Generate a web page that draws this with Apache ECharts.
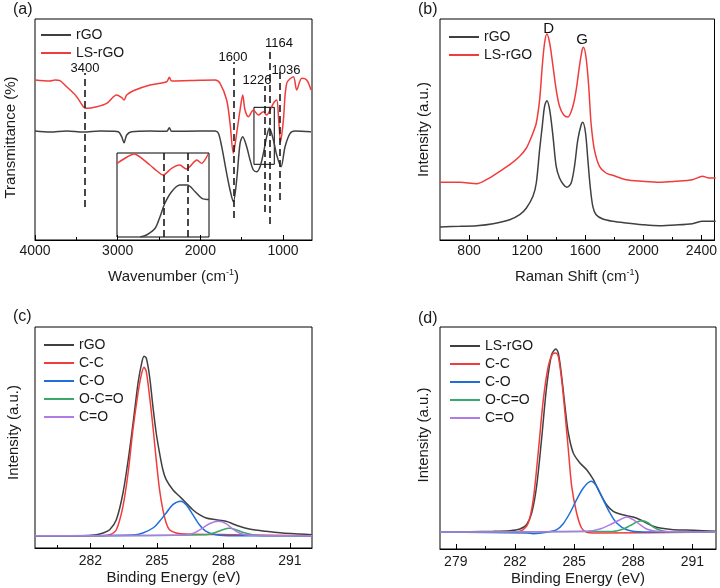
<!DOCTYPE html>
<html>
<head>
<meta charset="UTF-8">
<title></title>
<style>html,body{margin:0;padding:0;background:#fff}</style>
</head>
<body>
<div style="position:relative;width:720px;height:588px">
	<div id="main" style="position:absolute;left:0;top:0;width:720px;height:588px"></div>
	<div id="inset" style="position:absolute;left:0;top:0;width:720px;height:588px;pointer-events:none"></div>
</div>
<script src="https://cdn.jsdelivr.net/npm/echarts@6/dist/echarts.min.js"></script>
<script>
// (a) FTIR, [wavenumber, transmittance (arb.)]
var ftirRGO = [[4000,109],[3819,108],[3617,109],[3415,108],[3214,109],[3052,108.7],[2992,108.3],[2952,103.3],[2923,97.3],[2891,105],[2831,108.3],[2609,109],[2407,108.7],[2375,112.3],[2347,108.7],[2004,109],[1823,109],[1782,106.7],[1742,93.3],[1682,66.7],[1641,50],[1601,38.3],[1561,60],[1520,96.7],[1488,103.3],[1440,93.3],[1399,80],[1359,70],[1319,68.3],[1278,73.3],[1238,86.7],[1198,103.3],[1165,112],[1117,100],[1077,85],[1024,73.3],[976,93.3],[915,106.7],[855,109],[662,108.3]];
var ftirLS = [[4000,160],[3819,159],[3758,160],[3698,159.3],[3617,153.3],[3496,143.3],[3415,133.3],[3375,131.7],[3254,133.3],[3133,136.7],[3012,145],[2952,142.3],[2923,140],[2891,145],[2811,149.3],[2609,155],[2407,158.3],[2375,162.7],[2347,159],[2004,159.7],[1823,160],[1762,156.7],[1682,140],[1641,116.7],[1601,86.7],[1561,106.7],[1520,130],[1488,145],[1460,130],[1419,123.3],[1359,130],[1298,125],[1238,128.3],[1198,125],[1157,130],[1117,136.7],[1077,140],[1053,120],[1030,98],[996,120],[956,156.7],[875,163.3],[835,150],[774,161.7],[714,160],[662,150]];
// inset, 1352-1106 cm-1
var insetRGO = [[1290,0],[1273,2],[1250,8.7],[1237,20.3],[1224,33.7],[1206,45.3],[1184,52],[1164,52],[1143,45.3],[1125,38.7],[1106,37.5]];
var insetLS = [[1352,73],[1349,74.3],[1325,80],[1304,83],[1264,72],[1245,66],[1228,62],[1206,68.7],[1184,72],[1166,68],[1139,77],[1125,73.7],[1108,83]];
var ftirPeaks = [3400, 1600, 1226, 1164, 1036];
var ftirDash = [[33,167],[22,178],[28,154],[16,188],[40,172]];
var ftirPeakLabels = [[3395,172,'3400'],[1605,183,'1600'],[1315,160,'1226'],[1049,197,'1164'],[964,170,'1036']];

// (b) Raman, [shift, intensity]
var ramanRGO = [[600,13],[737,13.7],[852,14.3],[966,16.3],[1080,20.3],[1149,25.3],[1195,32],[1240,43.7],[1263,57],[1286,90.3],[1304,113.7],[1320,133.7],[1336,139.3],[1355,130.3],[1378,103.7],[1400,73.7],[1423,62],[1451,55.3],[1474,52.7],[1503,57],[1526,73.7],[1549,100.3],[1572,115.3],[1583,117.7],[1602,107],[1618,80.3],[1634,53.7],[1652,33.7],[1675,25.3],[1721,21],[1789,18.7],[1881,17],[1995,15.3],[2109,14.3],[2224,15],[2338,16.3],[2407,18.7],[2498,18.7]];
var ramanLS = [[600,57.7],[737,57.7],[852,56.3],[920,60.3],[1012,68.7],[1080,75.3],[1149,83.7],[1195,92],[1217,98.7],[1240,107],[1263,117],[1286,140.3],[1304,173.7],[1320,197],[1336,206],[1355,197],[1378,173.7],[1400,150.3],[1423,133.7],[1451,125.3],[1480,123],[1515,133.7],[1538,150.3],[1560,173.7],[1579,190.3],[1588,192.7],[1606,182],[1624,153.7],[1640,117],[1663,90.3],[1698,73.7],[1743,67],[1789,64.7],[1881,60.3],[1995,58.7],[2109,57.7],[2224,58.7],[2338,60.3],[2407,63.7],[2452,62],[2498,62]];
var ramanLabels = [[1348,211,'D'],[1579,200,'G']];

// (c) XPS C1s rGO, [binding energy, intensity]
var cRGO = [[279.5,12.3],[281.67,12.3],[282.27,13.3],[282.57,15],[282.87,18.3],[283.17,28.3],[283.47,55],[283.77,98.3],[284.0,138.3],[284.15,165],[284.3,183.3],[284.42,191.7],[284.52,190],[284.67,171.7],[284.82,141.7],[284.97,115],[285.12,95],[285.27,78.3],[285.42,68.3],[285.72,58.3],[286.02,51.7],[286.32,45],[286.62,38.3],[286.92,33.3],[287.22,30],[287.67,28.3],[288.12,26.7],[288.42,24.3],[288.72,21.7],[289.17,19],[289.92,16.7],[290.67,15],[291.42,14],[292,13.3]];
var cCC = [[279.5,12.3],[282.42,12.3],[282.87,13.3],[283.17,18.3],[283.47,41.7],[283.7,75],[283.92,118.3],[284.15,155],[284.3,173.3],[284.42,180.7],[284.52,176.7],[284.67,151.7],[284.82,121.7],[284.97,88.3],[285.12,58.3],[285.27,38.3],[285.42,25],[285.57,18.3],[285.87,15],[286.32,14],[288.42,13.3],[292,12.3]];
var cCO = [[279.5,12.3],[283.92,13],[284.37,15],[284.82,20],[285.12,26.7],[285.42,35],[285.72,43.3],[286.07,46.7],[286.32,43.3],[286.62,33.3],[286.92,23.3],[287.22,16.7],[287.67,13.3],[288.42,12.3],[292,12.3]];
var cOCO = [[279.5,12.3],[287.22,13.3],[287.67,15.7],[287.97,18.3],[288.27,19.7],[288.57,18.3],[288.87,15.7],[289.32,13.3],[289.92,12.3],[292,12.3]];
var cCdO = [[279.5,12.3],[286.32,13],[286.77,16],[287.07,20],[287.37,24.3],[287.78,26.7],[288.12,24.3],[288.42,19],[288.72,15],[289.17,12.7],[292,12.3]];

// (d) XPS C1s LS-rGO
var dLS = [[278.2,17],[280.9,17.7],[281.75,18.3],[282.25,20],[282.59,24.3],[282.85,36],[283.1,62.7],[283.35,109.3],[283.61,162.7],[283.86,194.3],[284.08,200],[284.2,196],[284.37,172.7],[284.54,142.7],[284.71,116],[284.96,96],[285.3,86],[285.64,79.3],[285.98,69.3],[286.31,56],[286.65,44.3],[286.99,37.7],[287.33,35],[287.67,33.3],[288.0,32],[288.35,29.3],[288.68,26],[289.02,22.7],[289.36,21],[290.04,19.3],[291.05,18.7],[292.2,17.7]];
var dCC = [[278.2,17],[282.08,17],[282.42,19.3],[282.68,26],[282.93,49.3],[283.18,96],[283.44,149.3],[283.69,182.7],[283.91,195],[284.08,196],[284.2,192.7],[284.37,169.3],[284.54,136],[284.71,99.3],[284.88,62.7],[285.13,36],[285.38,21],[285.64,16.7],[285.98,16],[292.2,17]];
var dCO = [[278.2,17],[282.59,16],[282.93,15.3],[283.61,16.7],[284.12,19.3],[284.45,25.3],[284.79,36],[285.13,49.3],[285.47,61],[285.86,67.7],[286.15,62.7],[286.48,49.3],[286.82,36],[287.16,26],[287.67,19.3],[288.51,17],[292.2,17]];
var dOCO = [[278.2,17],[286.99,17.7],[287.5,20],[287.84,23.3],[288.18,27],[288.48,28.3],[288.77,26],[289.02,22],[289.36,18.7],[289.87,17],[292.2,17]];
var dCdO = [[278.2,17],[285.64,17.7],[286.31,20],[286.82,24.3],[287.33,29.3],[287.67,32],[288.0,29.3],[288.35,24.3],[288.68,20],[289.19,17.7],[292.2,17]];

var ftirTicks = [1000, 2000, 3000, 4000], ftirMinor = [1500, 2500, 3500];
var ramanTicks = [800, 1200, 1600, 2000, 2400], ramanMinor = [1000, 1400, 1800, 2200];
var xpsTicksC = [282, 285, 288, 291], xpsTicksD = [279, 282, 285, 288, 291];
var xpsMinor = [280.5, 283.5, 286.5, 289.5];

var BLACK = '#404040', RED = '#f03c3c', BLUE = '#1f6fd8', GREEN = '#3aa86a', PURPLE = '#b07be6';
var FONT = 'Liberation Sans, Arial, sans-serif';

var myChart = echarts.init(document.getElementById('main'), null, {renderer: 'canvas'});
// the FTIR inset gets its own instance, laid over the main one
var insetChart = echarts.init(document.getElementById('inset'), null, {renderer: 'canvas'});

function xAxes(grid, min, max, majors, minors, name, nameGap, labelMargin, inverse) {
	return [{
		type: 'value', gridIndex: grid, min: min, max: max, inverse: !!inverse, position: 'bottom',
		splitLine: {show: false},
		axisLine: {lineStyle: {color: '#000', width: 1}},
		axisTick: {inside: true, length: 5, customValues: majors, lineStyle: {color: '#000'}},
		axisLabel: {customValues: majors, margin: labelMargin, fontSize: 14, color: '#1a1a1a', fontFamily: FONT,
			formatter: function(v) { return String(v); }},
		name: name, nameLocation: 'middle', nameGap: nameGap,
		nameTextStyle: {fontSize: 15, color: '#1a1a1a', fontFamily: FONT,
			rich: {sup: {fontSize: 9, fontFamily: FONT, color: '#1a1a1a', verticalAlign: 'bottom', padding: [0, 0, 8, 0]}}}
	}, {
		type: 'value', gridIndex: grid, min: min, max: max, inverse: !!inverse, position: 'bottom',
		splitLine: {show: false}, axisLine: {show: false}, axisLabel: {show: false},
		axisTick: {inside: true, length: 3, customValues: minors, lineStyle: {color: '#000'}}
	}];
}

function yAxis(grid, max, name, nameGap, pad) {
	return {
		type: 'value', gridIndex: grid, min: 0, max: max,
		axisLine: {show: false}, axisTick: {show: false}, axisLabel: {show: false}, splitLine: {show: false},
		name: name, nameLocation: 'middle', nameGap: nameGap, nameRotate: 90,
		nameTextStyle: {fontSize: 15, color: '#1a1a1a', fontFamily: FONT, padding: pad || 0}
	};
}

function line(name, xi, yi, data, color) {
	return {
		type: 'line', name: name, xAxisIndex: xi, yAxisIndex: yi, data: data,
		symbol: 'none', smooth: 0.3, silent: true,
		lineStyle: {color: color, width: 1.5}, itemStyle: {color: color}
	};
}

function textMarks(xi, yi, items, size) {
	return {
		type: 'scatter', xAxisIndex: xi, yAxisIndex: yi, symbolSize: 0, silent: true,
		itemStyle: {opacity: 1},
		data: items.map(function(d) { return {value: [d[0], d[1]], name: d[2]}; }),
		label: {show: true, position: 'inside', formatter: '{b}', fontSize: size, color: '#111', fontFamily: FONT}
	};
}

function legend(left, top, names) {
	return {
		left: left, top: top, orient: 'vertical', data: names, icon: 'rect',
		itemWidth: 30, itemHeight: 2, itemGap: 4, selectedMode: false,
		formatter: function(n) { return n.split('|')[1]; },
		textStyle: {fontSize: 14, color: '#1a1a1a', fontFamily: FONT}
	};
}

function dashLines(lines) {
	return {
		silent: true, symbol: 'none', label: {show: false}, animation: false,
		lineStyle: {color: '#1a1a1a', type: [7, 4], width: 1.6},
		data: lines
	};
}

var seriesA = line('a|rGO', 0, 0, ftirRGO, BLACK);
seriesA.markLine = dashLines(ftirPeaks.map(function(p, i) { return [{coord: [p, ftirDash[i][0]]}, {coord: [p, ftirDash[i][1]]}]; }));
var seriesALS = line('a|LS-rGO', 0, 0, ftirLS, RED);
seriesALS.markArea = {
	silent: true, label: {show: false},
	itemStyle: {color: 'rgba(0,0,0,0)', borderColor: '#000', borderWidth: 1},
	data: [[{coord: [1352, 75.7]}, {coord: [1106, 132.7]}]]
};

var option = {
	animation: false,
	backgroundColor: '#fff',
	grid: [
		{left: 35, top: 19, width: 277, height: 221, show: true, borderColor: '#000', borderWidth: 1},
		{left: 440, top: 19, width: 276, height: 221, show: true, borderColor: '#000', borderWidth: 1},
		{left: 35, top: 327, width: 277, height: 221, show: true, borderColor: '#000', borderWidth: 1},
		{left: 440, top: 327, width: 276, height: 222, show: true, borderColor: '#000', borderWidth: 1}
	],
	xAxis: [].concat(
		xAxes(0, 650, 4000, ftirTicks, ftirMinor, 'Wavenumber (cm{sup|-1})', 28, 4, true),
		xAxes(1, 600, 2490, ramanTicks, ramanMinor, 'Raman Shift (cm{sup|-1})', 28, 4),
		xAxes(2, 279.5, 292, xpsTicksC, xpsMinor, 'Binding Energy (eV)', 22, 6),
		xAxes(3, 278.2, 292.2, xpsTicksD, xpsMinor, 'Binding Energy (eV)', 22, 6)
	),
	yAxis: [
		yAxis(0, 221, 'Transmittance (%)', 17, [0, 16, 0, 0]),
		yAxis(1, 221, 'Intensity (a.u.)', 9),
		yAxis(2, 221, 'Intensity (a.u.)', 14, [0, 0, 0, 10]),
		yAxis(3, 222, 'Intensity (a.u.)', 9, [0, 0, 0, 6])
	],
	legend: [
		legend(36, 23, ['a|rGO', 'a|LS-rGO']),
		legend(444, 25, ['b|rGO', 'b|LS-rGO']),
		legend(39, 333, ['c|rGO', 'c|C-C', 'c|C-O', 'c|O-C=O', 'c|C=O']),
		legend(445, 334, ['d|LS-rGO', 'd|C-C', 'd|C-O', 'd|O-C=O', 'd|C=O'])
	],
	graphic: [
		{type: 'text', left: 13, top: 2, style: {text: '(a)', fontSize: 16, fill: '#1a1a1a', fontFamily: FONT}},
		{type: 'text', left: 418, top: 2, style: {text: '(b)', fontSize: 16, fill: '#1a1a1a', fontFamily: FONT}},
		{type: 'text', left: 13, top: 309, style: {text: '(c)', fontSize: 16, fill: '#1a1a1a', fontFamily: FONT}},
		{type: 'text', left: 418, top: 311, style: {text: '(d)', fontSize: 16, fill: '#1a1a1a', fontFamily: FONT}}
	],
	series: [
		seriesA,
		seriesALS,
		textMarks(0, 0, ftirPeakLabels, 13),
		line('b|rGO', 2, 1, ramanRGO, BLACK),
		line('b|LS-rGO', 2, 1, ramanLS, RED),
		textMarks(2, 1, ramanLabels, 15),
		line('c|rGO', 4, 2, cRGO, BLACK),
		line('c|C-C', 4, 2, cCC, RED),
		line('c|C-O', 4, 2, cCO, BLUE),
		line('c|O-C=O', 4, 2, cOCO, GREEN),
		line('c|C=O', 4, 2, cCdO, PURPLE),
		line('d|LS-rGO', 6, 3, dLS, BLACK),
		line('d|C-C', 6, 3, dCC, RED),
		line('d|C-O', 6, 3, dCO, BLUE),
		line('d|O-C=O', 6, 3, dOCO, GREEN),
		line('d|C=O', 6, 3, dCdO, PURPLE)
	]
};

myChart.setOption(option);

var insetBlack = line('i|rGO', 0, 0, insetRGO, BLACK);
insetBlack.markLine = dashLines([[{coord: [1226, 0]}, {coord: [1226, 84]}], [{coord: [1164, 0]}, {coord: [1164, 84]}]]);

// red inset curve drawn as a custom polyline, points mapped through the inset axes
var insetRed = {
	type: 'custom', silent: true, z: 4,
	data: [0],
	renderItem: function(params, api) {
		var pts = insetLS.map(function(p) { return api.coord(p); });
		return {
			type: 'polyline',
			shape: {points: pts, smooth: 0.3},
			style: {stroke: RED, lineWidth: 1.5, fill: null}
		};
	}
};

insetChart.setOption({
	animation: false,
	grid: {left: 117, top: 153, width: 92, height: 84, show: true, borderColor: '#000', borderWidth: 1},
	xAxis: {type: 'value', min: 1106, max: 1352, inverse: true, show: false},
	yAxis: {type: 'value', min: 0, max: 84, show: false},
	series: [insetBlack, insetRed]
});
</script>
</body>
</html>
